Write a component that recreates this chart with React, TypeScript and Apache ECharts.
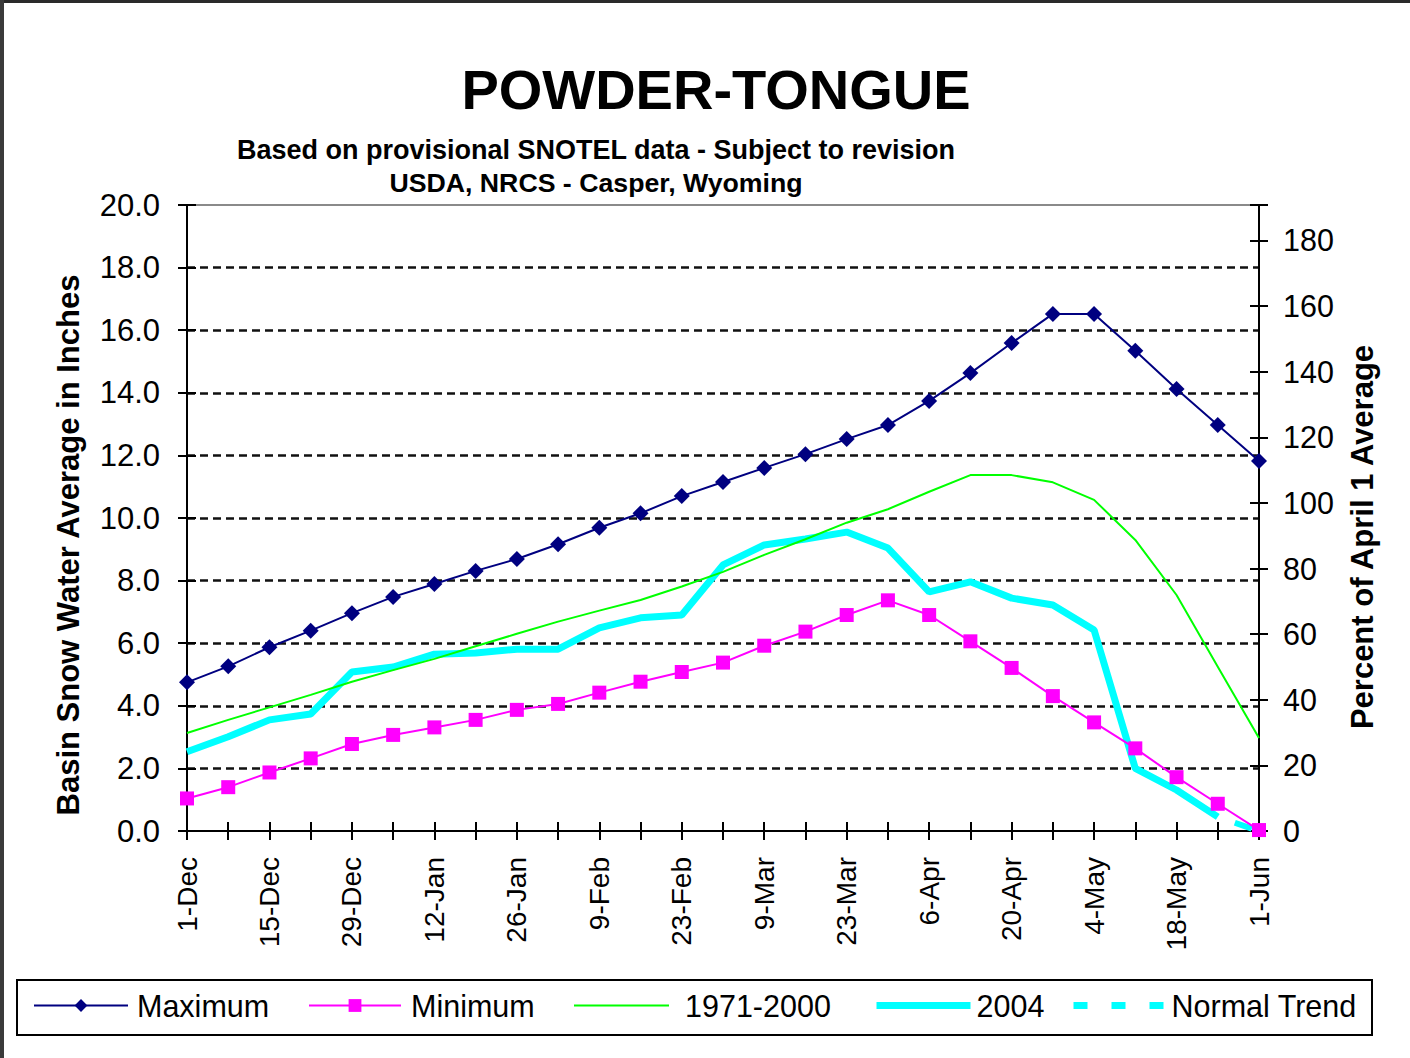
import React, { useEffect, useRef } from "react";
import * as echarts from "echarts";

const categories = [
  "1-Dec", "8-Dec", "15-Dec", "22-Dec", "29-Dec", "5-Jan", "12-Jan", "19-Jan", "26-Jan",
  "2-Feb", "9-Feb", "16-Feb", "23-Feb", "2-Mar", "9-Mar", "16-Mar", "23-Mar", "30-Mar",
  "6-Apr", "13-Apr", "20-Apr", "27-Apr", "4-May", "11-May", "18-May", "25-May", "1-Jun",
];

const maximum = [
  4.75, 5.26, 5.87, 6.4, 6.96, 7.48, 7.89, 8.31, 8.69, 9.16, 9.69, 10.15, 10.7, 11.15,
  11.6, 12.04, 12.52, 12.97, 13.74, 14.63, 15.59, 16.52, 16.52, 15.34, 14.12, 12.97, 11.82,
];

const minimum = [
  1.04, 1.4, 1.87, 2.32, 2.78, 3.07, 3.31, 3.55, 3.87, 4.06, 4.42, 4.77, 5.08, 5.38,
  5.92, 6.37, 6.9, 7.37, 6.9, 6.06, 5.21, 4.31, 3.47, 2.64, 1.72, 0.87, 0.03,
];

const normal7100 = [
  3.13, 3.55, 3.95, 4.35, 4.77, 5.14, 5.5, 5.9, 6.3, 6.69, 7.04, 7.38, 7.81, 8.28,
  8.82, 9.32, 9.85, 10.28, 10.84, 11.37, 11.37, 11.14, 10.58, 9.3, 7.54, 5.25, 2.97,
];

const wy2004 = [
  2.53, 3.01, 3.55, 3.74, 5.08, 5.24, 5.65, 5.69, 5.81, 5.81, 6.49, 6.81, 6.9, 8.5,
  9.14, 9.33, 9.55, 9.04, 7.64, 7.96, 7.44, 7.22, 6.42, 2.0, 1.31, 0.45, null,
];

const normalTrend = [
  null, null, null, null, null, null, null, null, null, null, null, null, null, null,
  null, null, null, null, null, null, null, null, null, null, null, 0.45, 0,
];

const legendNames = ["Maximum", "Minimum", "1971-2000", "2004", "Normal Trend"];

const leftTicks = { min: 0, max: 20, interval: 2 };
const rightTicks = { min: 0, max: 190.8, interval: 20, lastLabel: 180 };

const FONT = "'Liberation Sans', Arial, sans-serif";

export default function App() {
  const ref = useRef<HTMLDivElement>(null);

  useEffect(() => {
    if (!ref.current) return;
    const chart = echarts.init(ref.current, undefined, { renderer: "svg" });

    const tickStyle = { color: "#000", width: 2 };
    const hiddenLabel = { show: false };

    // legend layout: [icon left, icon width, gap icon->text, hide symbol, line style override]
    const legendLayout: [number, number, number, boolean, any][] = [
      [33, 94, 9, false, { width: 2 }],
      [308, 92, 10, false, { width: 2 }],
      [573, 95, 16, true, { width: 2 }],
      [873, 94, 6, true, { width: 7 }],
      [1070, 91, 7, true, { width: 7, type: [14, 24], dashOffset: 0 }],
    ];

    const legends = legendNames.map((name, i) => {
      const [left, w, gap, hideSym, ls] = legendLayout[i];
      return {
        data: [hideSym ? { name, itemStyle: { opacity: 0 } } : { name }],
        left,
        top: 990,
        padding: 0,
        itemWidth: w,
        itemHeight: 16,
        lineStyle: ls,
        textStyle: {
          fontSize: 30.5,
          color: "#000",
          fontFamily: FONT,
          padding: [0, 0, 0, Math.max(0, gap - 5)],
        },
      };
    });

    const option: any = {
      animation: false,
      backgroundColor: "#ffffff",
      textStyle: { fontFamily: FONT },
      grid: {
        left: 187, right: 151, top: 205, bottom: 227, containLabel: false,
        show: true, borderColor: "#8a8a8a", borderWidth: 2, backgroundColor: "transparent",
      },
      graphic: [
        { type: "rect", shape: { x: 0, y: 0, width: 1410, height: 3 }, style: { fill: "#2a2a2a" }, silent: true },
        { type: "rect", shape: { x: 0, y: 0, width: 4, height: 1058 }, style: { fill: "#3a3a3a" }, silent: true },
        {
          type: "text", x: 716, y: 89,
          style: { text: "POWDER-TONGUE", fontSize: 56, fontWeight: "bold", fontFamily: FONT, fill: "#000", align: "center", verticalAlign: "middle" },
        },
        {
          type: "text", x: 596, y: 150,
          style: { text: "Based on provisional SNOTEL data - Subject to revision", fontSize: 27, fontWeight: "bold", fontFamily: FONT, fill: "#000", align: "center", verticalAlign: "middle" },
        },
        {
          type: "text", x: 596, y: 183,
          style: { text: "USDA, NRCS - Casper, Wyoming", fontSize: 26.7, fontWeight: "bold", fontFamily: FONT, fill: "#000", align: "center", verticalAlign: "middle" },
        },
        {
          type: "text", x: 68, y: 545, rotation: Math.PI / 2,
          style: { text: "Basin Snow Water Average in Inches", fontSize: 31, fontWeight: "bold", fontFamily: FONT, fill: "#000", align: "center", verticalAlign: "middle" },
        },
        {
          type: "text", x: 1362, y: 537, rotation: Math.PI / 2,
          style: { text: "Percent of April 1 Average", fontSize: 31, fontWeight: "bold", fontFamily: FONT, fill: "#000", align: "center", verticalAlign: "middle" },
        },
        {
          type: "rect", shape: { x: 17, y: 980, width: 1355, height: 55 },
          style: { fill: "none", stroke: "#000", lineWidth: 2 }, z: 5,
        },
      ],
      legend: legends,
      xAxis: [
        {
          type: "category",
          data: categories,
          boundaryGap: false,
          position: "bottom",
          axisLine: { lineStyle: tickStyle },
          axisTick: { show: true, interval: 0, length: 9, lineStyle: tickStyle },
          axisLabel: { interval: 1, rotate: 90, fontSize: 28, color: "#000", margin: 26, fontFamily: FONT },
          splitLine: { show: false },
        },
        {
          type: "category",
          data: categories,
          boundaryGap: false,
          position: "bottom",
          axisLine: { show: false },
          axisTick: { show: true, inside: true, interval: 0, length: 9, lineStyle: tickStyle },
          axisLabel: hiddenLabel,
          splitLine: { show: false },
        },
      ],
      yAxis: [
        {
          type: "value",
          position: "left",
          min: leftTicks.min,
          max: leftTicks.max,
          interval: leftTicks.interval,
          axisLine: { show: true, lineStyle: tickStyle },
          axisTick: { show: true, length: 9, lineStyle: tickStyle },
          axisLabel: { fontSize: 31, color: "#000", margin: 27, fontFamily: FONT, formatter: (v: number) => v.toFixed(1) },
          splitLine: { show: true, showMinLine: false, showMaxLine: false, lineStyle: { color: "#111", width: 2.5, type: [8, 5] } },
        },
        {
          type: "value",
          position: "right",
          min: rightTicks.min,
          max: rightTicks.max,
          interval: rightTicks.interval,
          axisLine: { show: true, lineStyle: tickStyle },
          axisTick: { show: true, length: 9, lineStyle: tickStyle },
          axisLabel: {
            fontSize: 30.5, color: "#000", margin: 24, fontFamily: FONT,
            formatter: (v: number) => (v <= rightTicks.lastLabel && Math.abs(v % 20) < 1e-6 ? String(v) : ""),
          },
          splitLine: { show: false },
        },
        {
          type: "value",
          position: "left",
          min: leftTicks.min,
          max: leftTicks.max,
          interval: leftTicks.interval,
          axisLine: { show: false },
          axisTick: { show: true, inside: true, length: 9, lineStyle: tickStyle },
          axisLabel: hiddenLabel,
          splitLine: { show: false },
        },
        {
          type: "value",
          position: "right",
          min: rightTicks.min,
          max: rightTicks.max,
          interval: rightTicks.interval,
          axisLine: { show: false },
          axisTick: { show: true, inside: true, length: 9, lineStyle: tickStyle },
          axisLabel: hiddenLabel,
          splitLine: { show: false },
        },
      ],
      series: [
        {
          name: "2004",
          type: "line",
          data: wy2004,
          symbol: "none",
          lineStyle: { color: "#00FFFF", width: 7 },
          itemStyle: { color: "#00FFFF" },
          z: 2,
        },
        {
          name: "Normal Trend",
          type: "line",
          data: normalTrend,
          symbol: "none",
          lineStyle: { color: "#00FFFF", width: 6, type: [18, 18], dashOffset: 18 },
          itemStyle: { color: "#00FFFF" },
          z: 2,
        },
        {
          name: "1971-2000",
          type: "line",
          data: normal7100,
          symbol: "none",
          lineStyle: { color: "#00FF00", width: 2 },
          itemStyle: { color: "#00FF00" },
          z: 3,
        },
        {
          name: "Minimum",
          type: "line",
          data: minimum,
          symbol: "rect",
          symbolSize: 14,
          lineStyle: { color: "#FF00FF", width: 2 },
          itemStyle: { color: "#FF00FF" },
          z: 4,
        },
        {
          name: "Maximum",
          type: "line",
          data: maximum,
          symbol: "diamond",
          symbolSize: 16,
          lineStyle: { color: "#000080", width: 2 },
          itemStyle: { color: "#000080" },
          z: 5,
        },
      ],
    };

    chart.setOption(option);
    return () => chart.dispose();
  }, []);

  return (
    <div
      ref={ref}
      style={{ position: "fixed", left: 0, top: 0, width: 1410, height: 1058, background: "#fff" }}
    />
  );
}
